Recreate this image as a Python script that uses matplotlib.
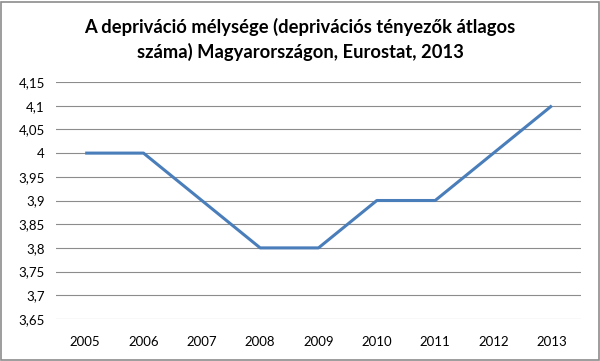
import matplotlib
matplotlib.use('Agg')
import matplotlib.pyplot as plt
from matplotlib.patches import Rectangle

years = ['2005', '2006', '2007', '2008', '2009', '2010', '2011', '2012', '2013']
values = [4.0, 4.0, 3.9, 3.8, 3.8, 3.9, 3.9, 4.0, 4.1]
yticks = [3.65, 3.7, 3.75, 3.8, 3.85, 3.9, 3.95, 4.0, 4.05, 4.1, 4.15]
title = 'A depriváció mélysége (deprivációs tényezők átlagos\nszáma) Magyarországon, Eurostat, 2013'

plt.rcParams['font.family'] = ['Lato', 'DejaVu Sans']

W, H = 600, 361
fig = plt.figure(figsize=(W / 100, H / 100), dpi=100)
# plot area in pixels: left 56, right 581, top 82, bottom 319
ax = fig.add_axes([56 / W, 1 - 319 / H, (581 - 56) / W, (319 - 82) / H])

x = list(range(len(years)))
ax.plot(x, values, '-', color='#4A7EBB', linewidth=2.2, solid_capstyle='butt')

ax.set_xlim(-0.5, len(years) - 0.5)
ax.set_ylim(3.65, 4.15)
ax.set_yticks(yticks)
ax.set_yticklabels([f'{v:g}'.replace('.', ',') for v in yticks])
ax.set_xticks(x)
ax.set_xticklabels(years)
ax.tick_params(length=0, labelsize=9.5, colors='black')
ax.tick_params(axis='y', pad=8)
ax.tick_params(axis='x', pad=12)
ax.grid(axis='y', color='#8c8c8c', linewidth=0.8)
ax.set_axisbelow(True)
for s in ax.spines.values():
    s.set_visible(False)

fig.text(0.5, 1 - 39 / H, title, ha='center', va='center', fontsize=13.2,
         fontweight='bold', linespacing=1.45)

fig.patches.append(Rectangle((1 / W, 1 / H), 1 - 2.5 / W, 1 - 2.5 / H,
                             transform=fig.transFigure, fill=False,
                             edgecolor='#8c8c8c', linewidth=1.2))

fig.savefig('out.png', dpi=100)
